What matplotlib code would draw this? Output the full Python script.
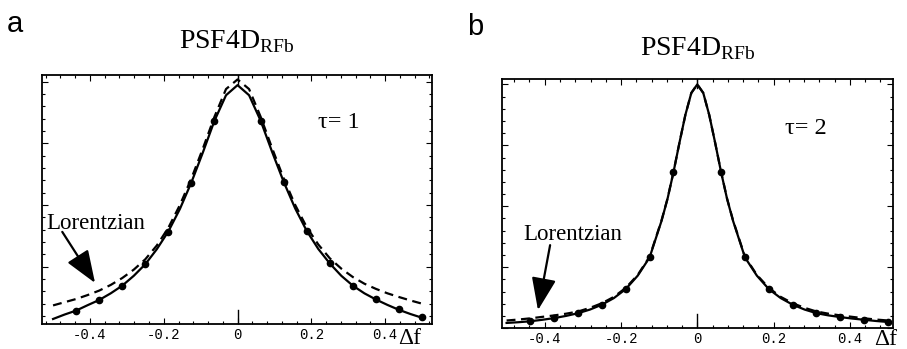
import numpy as np
import matplotlib
matplotlib.use('Agg')
import matplotlib.pyplot as plt
from matplotlib.ticker import MultipleLocator, FixedLocator

plt.rcParams['font.family'] = ['Liberation Serif', 'DejaVu Serif']
plt.rcParams['mathtext.fontset'] = 'custom'
plt.rcParams['mathtext.rm'] = 'Liberation Serif'
plt.rcParams['axes.unicode_minus'] = False

# grid the curves were read on (step 1/32)
curve_x = [-0.5, -0.46875, -0.4375, -0.40625, -0.375, -0.34375, -0.3125, -0.28125,
           -0.25, -0.21875, -0.1875, -0.15625, -0.125, -0.09375, -0.0625, -0.03125,
           0.0, 0.03125, 0.0625, 0.09375, 0.125, 0.15625, 0.1875, 0.21875,
           0.25, 0.28125, 0.3125, 0.34375, 0.375, 0.40625, 0.4375, 0.46875, 0.5]

# panel a (tau = 1)
a_solid = [0.038, 0.056, 0.072, 0.094, 0.115, 0.142, 0.173, 0.213,
           0.260, 0.321, 0.393, 0.484, 0.592, 0.714, 0.842, 0.945,
           0.986, 0.945, 0.842, 0.715, 0.594, 0.486, 0.395, 0.322,
           0.263, 0.213, 0.173, 0.142, 0.117, 0.095, 0.075, 0.058, 0.043]
a_dashed = [0.093, 0.106, 0.119, 0.135, 0.153, 0.176, 0.204, 0.238,
            0.280, 0.336, 0.408, 0.500, 0.608, 0.730, 0.858, 0.970,
            1.009, 0.970, 0.858, 0.730, 0.608, 0.500, 0.410, 0.340,
            0.284, 0.242, 0.208, 0.181, 0.160, 0.142, 0.127, 0.113, 0.100]
a_pts_x = [-0.4375, -0.375, -0.3125, -0.25, -0.1875, -0.125, -0.0625,
           0.0625, 0.125, 0.1875, 0.25, 0.3125, 0.375, 0.4375, 0.5]
a_pts_y = [0.070, 0.115, 0.173, 0.259, 0.392, 0.591, 0.842,
           0.842, 0.595, 0.396, 0.264, 0.173, 0.119, 0.077, 0.045]

# panel b (tau = 2), extra points near the sharp peak
b_x = [-0.5, -0.46875, -0.4375, -0.40625, -0.375, -0.34375, -0.3125, -0.28125,
       -0.25, -0.21875, -0.1875, -0.15625, -0.125, -0.09375, -0.078125, -0.0625,
       -0.046875, -0.03125, -0.015625, 0.0, 0.015625, 0.03125, 0.046875, 0.0625,
       0.078125, 0.09375, 0.125, 0.15625, 0.1875, 0.21875, 0.25, 0.28125,
       0.3125, 0.34375, 0.375, 0.40625, 0.4375, 0.46875, 0.5]
b_solid = [0.021, 0.024, 0.028, 0.034, 0.041, 0.050, 0.061, 0.076,
           0.096, 0.123, 0.160, 0.215, 0.290, 0.440, 0.530, 0.639,
           0.760, 0.875, 0.965, 1.000, 0.965, 0.875, 0.760, 0.639,
           0.530, 0.440, 0.290, 0.215, 0.160, 0.123, 0.096, 0.076,
           0.061, 0.052, 0.045, 0.039, 0.034, 0.029, 0.025]
b_dashed = [0.031, 0.035, 0.040, 0.046, 0.052, 0.059, 0.068, 0.083,
            0.102, 0.128, 0.165, 0.218, 0.293, 0.442, 0.531, 0.640,
            0.760, 0.875, 0.965, 1.000, 0.965, 0.875, 0.760, 0.640,
            0.531, 0.442, 0.293, 0.218, 0.165, 0.128, 0.102, 0.083,
            0.068, 0.059, 0.052, 0.046, 0.040, 0.035, 0.031]
b_pts_x = a_pts_x
b_pts_y = [0.027, 0.041, 0.061, 0.096, 0.160, 0.290, 0.639,
           0.639, 0.290, 0.160, 0.096, 0.061, 0.045, 0.034, 0.025]

xtick_vals = [-0.4, -0.2, 0.0, 0.2, 0.4]
xtick_labels = ['-0.4', '-0.2', '0', '0.2', '0.4']

fig = plt.figure(figsize=(9.07, 3.49), dpi=100)
ax_a = fig.add_axes([0.0463, 0.0716, 0.430, 0.7135])
ax_b = fig.add_axes([0.5535, 0.060, 0.431, 0.7135])


def style_axes(ax, xlim, ylim):
    ax.set_xlim(*xlim)
    ax.set_ylim(*ylim)
    for sp in ax.spines.values():
        sp.set_linewidth(1.3)
    ax.xaxis.set_major_locator(FixedLocator(xtick_vals))
    ax.set_xticklabels(xtick_labels, family='Liberation Mono', fontsize=10)
    ax.xaxis.set_minor_locator(MultipleLocator(0.04))
    ax.yaxis.set_major_locator(MultipleLocator(0.25))
    ax.yaxis.set_minor_locator(MultipleLocator(0.05))
    ax.tick_params(which='both', direction='in', top=True, right=True, width=0.8)
    ax.tick_params(which='major', length=4, pad=3)
    ax.tick_params(which='minor', length=2)
    ax.tick_params(axis='y', labelleft=False)
    # long tick at zero
    ax.axvline(0, 0, 0.055, color='k', lw=1)
    ax.axvline(0, 0.965, 1, color='k', lw=1)


def draw_panel(ax, xs, solid, dashed, px, py):
    ax.plot(xs, dashed, color='k', lw=1.6, ls=(0, (4, 2.5)))
    ax.plot(xs, solid, color='k', lw=1.6)
    ax.plot(px, py, 'o', color='k', ms=4.5)


style_axes(ax_a, (-0.53, 0.527), (0.0176, 1.027))
draw_panel(ax_a, curve_x, a_solid, a_dashed, a_pts_x, a_pts_y)
style_axes(ax_b, (-0.512, 0.513), (0.0, 1.022))
draw_panel(ax_b, b_x, b_solid, b_dashed, b_pts_x, b_pts_y)

for ax, tau, tx, ty, lx, ly, arr_from, arr_to, tpad in [
        (ax_a, '1', 0.708, 0.787, 0.01, 0.38, (0.052, 0.37), (0.136, 0.165), 19),
        (ax_b, '2', 0.724, 0.78, 0.055, 0.355, (0.123, 0.333), (0.092, 0.072), 17)]:
    ax.text(tx, ty, '\u03c4= ' + tau, transform=ax.transAxes, fontsize=17.5,
            ha='left', va='baseline')
    ax.text(lx, ly, 'Lorentzian', transform=ax.transAxes, fontsize=16.5,
            ha='left', va='baseline')
    ax.annotate('', xy=arr_to, xytext=arr_from, xycoords='axes fraction',
                textcoords='axes fraction',
                arrowprops=dict(arrowstyle='-|>,head_length=1.0,head_width=0.38',
                                mutation_scale=20, lw=1.6, color='k',
                                shrinkA=0, shrinkB=0))
    ax.set_title('PSF4D$_{\\rm RFb}$', fontsize=20, pad=tpad)

fig.text(398 / 907, 1 - 344 / 349, '\u0394f', fontsize=17, ha='left', va='baseline')
fig.text(874 / 907, 1 - 345 / 349, '\u0394f', fontsize=17, ha='left', va='baseline')

fig.text(7 / 907, 1 - 32 / 349, 'a', family='Liberation Sans', fontsize=21, va='baseline')
fig.text(467 / 907, 1 - 35 / 349, 'b', family='Liberation Sans', fontsize=21, va='baseline')

fig.savefig('out.png', dpi=100)
